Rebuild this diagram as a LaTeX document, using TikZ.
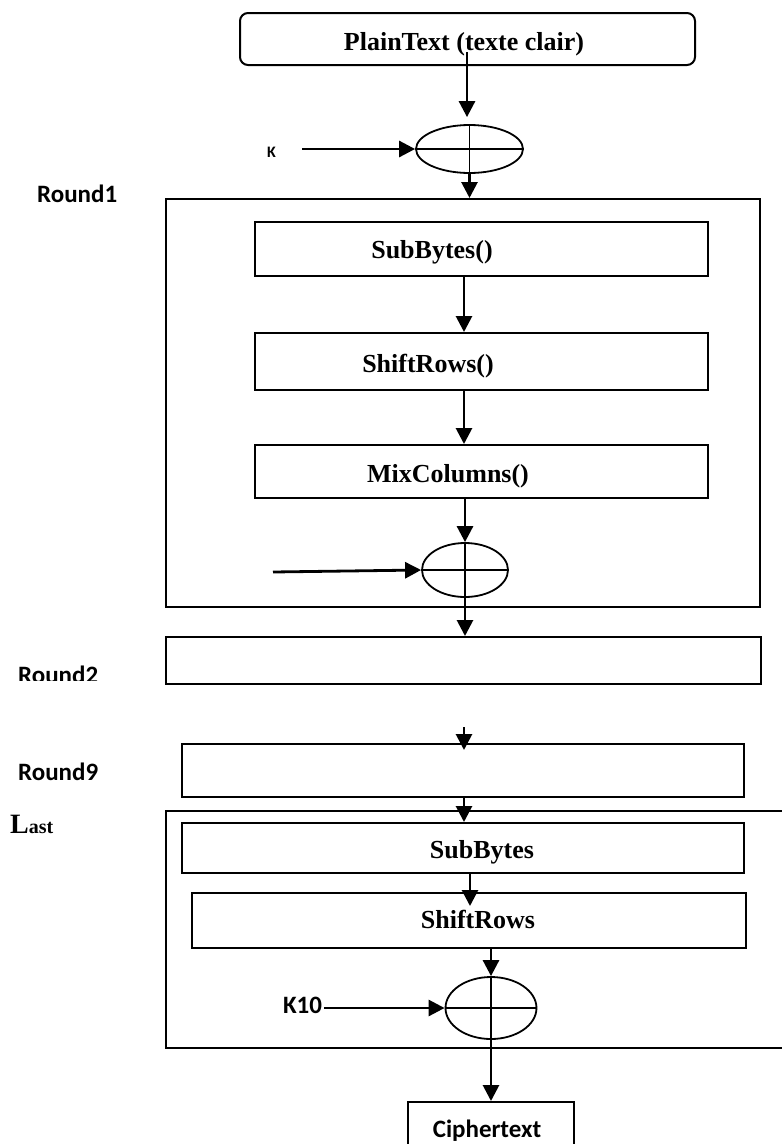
\documentclass[tikz,border=0pt]{standalone}
\usepackage{fontspec}
\setmainfont{Liberation Serif}
\newfontfamily\calibrifont{Carlito}
\usetikzlibrary{arrows.meta,shapes.geometric,calc}

\begin{document}
\begin{tikzpicture}[x=1pt,y=-1pt,
  box/.style={draw,rectangle,line width=2pt,inner sep=0pt},
  xorop/.style={draw,ellipse,line width=1.8pt,inner sep=0pt},
  arr/.style={line width=2.8pt,-{Triangle[length=16pt,width=16pt]}},
  cross/.style={line width=1.6pt},
  tlabel/.style={font=\fontsize{26}{30}\selectfont\bfseries,inner sep=0pt},
  clabel/.style={font=\calibrifont\fontsize{25}{30}\selectfont\bfseries,inner sep=0pt}]

\clip (0,0) rectangle (782,1144);
\fill[white] (0,0) rectangle (782,1144);

% input block and first key addition
\node[box,rounded corners=8pt,minimum width=455pt,minimum height=52pt] (pt) at (467.5,39) {};
\node[tlabel,anchor=base] (ptt) at (464,50) {PlainText (texte clair)};
\node[xorop,minimum width=107pt,minimum height=48pt] (x1) at (469.5,149) {};
\draw[cross] (x1.north) -- (x1.south) (x1.west) -- (x1.east);
\node[clabel,font=\calibrifont\fontsize{16}{18}\selectfont\bfseries,anchor=base west] (k) at (267,157) {K};
\coordinate (kin) at (302,149);
\coordinate (ptout) at (467,52);
\draw[arr,shorten >=7pt] (ptout) -- (ptout |- x1.north);
\draw[arr] (kin) -- (x1.west);

% round 1
\node[clabel,anchor=base west] (l1) at (37,202) {Round1};
\node[box,minimum width=594pt,minimum height=408pt] (r1) at (463,403) {};
\draw[arr] (x1.south) -- (x1.south |- r1.north);
\node[box,minimum width=453pt,minimum height=54pt] (sb1) at (481.5,249) {};
\node[tlabel,anchor=base] at (432,258) {SubBytes()};
\node[box,minimum width=453pt,minimum height=57pt] (sr1) at (481.5,361.5) {};
\node[tlabel,anchor=base] at (428,372) {ShiftRows()};
\node[box,minimum width=453pt,minimum height=53pt] (mc1) at (481.5,471.5) {};
\node[tlabel,anchor=base] at (448,482) {MixColumns()};
\node[xorop,minimum width=86pt,minimum height=54pt] (x2) at (465,570) {};
\draw[cross] (x2.north) -- (x2.south) (x2.west) -- (x2.east);
\coordinate (col) at (464,0);
\draw[arr] (col |- sb1.south) -- (col |- sr1.north);
\draw[arr] (col |- sr1.south) -- (col |- mc1.north);
\draw[arr] (x2.north |- mc1.south) -- (x2.north);
\coordinate (k1in) at (273,572);
\draw[arr] (k1in) -- (x2.west);

% round 2
\begin{scope}
  \clip (0,600) rectangle (160,680);
  \node[clabel,anchor=base west] (l2) at (18,683) {Round2};
\end{scope}
\node[box,minimum width=595pt,minimum height=47pt] (r2) at (463.5,660.5) {};
\draw[arr] (x2.south) -- (x2.south |- r2.north);

% round 9
\node[clabel,anchor=base west] (l9) at (18,780) {Round9};
\node[box,minimum width=562pt,minimum height=53pt] (r9) at (463,770.5) {};
\draw[arr,shorten >=-7pt] ($(col |- r9.north)+(0,-16)$) -- (col |- r9.north);

% last round
\node[anchor=base west,inner sep=0pt,font=\bfseries] (ll) at (10,833) {{\fontsize{28}{30}\selectfont L}{\fontsize{20}{24}\selectfont ast}};
\node[box,minimum width=634pt,minimum height=237pt] (rl) at (483,929.5) {};
\node[box,minimum width=562pt,minimum height=50pt] (sbl) at (463,848) {};
\node[tlabel,anchor=base] at (482,858) {SubBytes};
\node[box,minimum width=554pt,minimum height=55pt] (srl) at (469,920.5) {};
\node[tlabel,anchor=base] at (478,928) {ShiftRows};
\draw[arr] (col |- r9.south) -- (col |- sbl.north);
\coordinate (col2) at (470,0);
\draw[arr,shorten >=-14pt] (col2 |- sbl.south) -- (col2 |- srl.north);
\node[xorop,minimum width=91pt,minimum height=62pt] (x3) at (491,1008) {};
\draw[cross] (x3.north) -- (x3.south) (x3.west) -- (x3.east);
\draw[arr] (x3.north |- srl.south) -- (x3.north);
\node[clabel,anchor=base west,outer sep=2pt] (k10) at (281,1013) {K10};
\draw[arr] (k10.east |- x3.west) -- (x3.west);

% output
\node[box,minimum width=166pt,minimum height=68pt] (ct) at (491,1136) {};
\node[clabel,anchor=base] (ctt) at (487,1137) {Ciphertext};
\draw[arr] (x3.south) -- (x3.south |- ct.north);

\end{tikzpicture}
\end{document}
